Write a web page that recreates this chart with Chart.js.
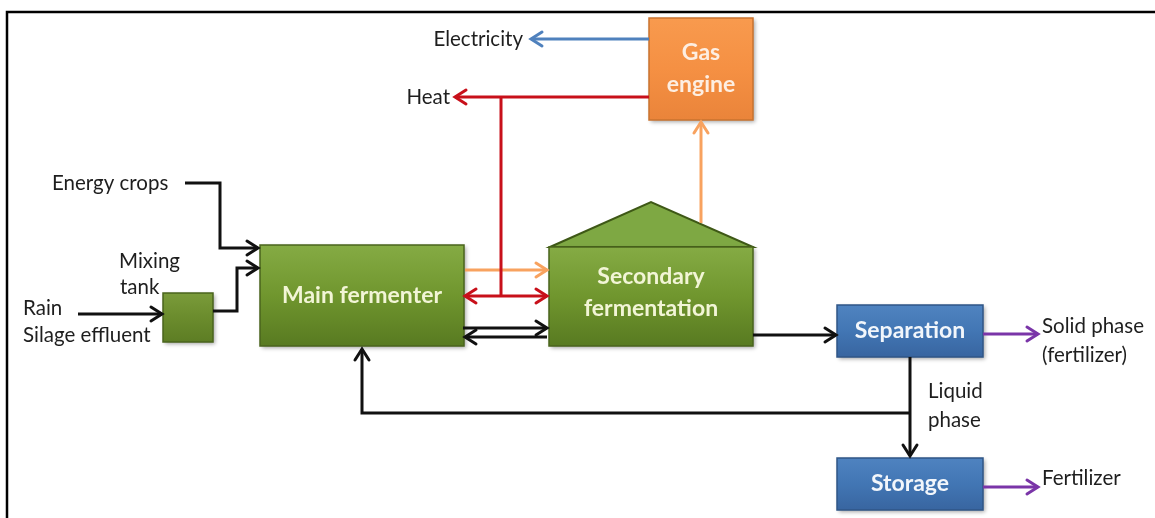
<!DOCTYPE html>
<html>
<head>
<meta charset="utf-8">
<script src="https://cdn.jsdelivr.net/npm/chart.js@4"></script>
<style>
html, body { margin: 0; padding: 0; background: #fff; }
canvas { display: block; }
</style>
</head>
<body>
<canvas id="grafico" width="1155" height="518"></canvas>
<script>
// process units (diagram units, y grows downward)
const boxNames  = ['Gas\nengine', 'Main fermenter', 'Secondary\nfermentation', 'Separation', 'Storage', ''];
const boxKinds  = ['engine', 'green', 'green', 'blue', 'blue', 'tank'];
const boxLeft   = [649, 260, 549, 837, 837, 163];
const boxTop    = [18, 245, 247, 305, 458, 293];
const boxRight  = [753, 464, 753, 983, 983, 213];
const boxBottom = [120, 346, 346, 357, 510, 342];
const boxRoof   = [null, null, 202, null, null, null];

// flows between units
const flowKinds = ['power', 'heat', 'heat', 'heat', 'gas', 'gas', 'mass', 'mass', 'mass', 'mass', 'mass', 'mass', 'mass', 'mass', 'product', 'product'];
const flowHeads = ['end', 'end', 'none', 'both', 'end', 'end', 'end', 'end', 'end', 'end', 'end', 'end', 'end', 'end', 'end', 'end'];
const flowX = [
  [649, 531], [649, 455], [501, 501], [465, 547], [465, 547], [701, 701],
  [463, 547], [547, 465], [753, 836],
  [185, 220, 220, 258], [78, 162], [213, 237, 237, 258],
  [910, 362, 362], [910, 910],
  [983, 1038], [983, 1038]
];
const flowY = [
  [39, 39], [97, 97], [97, 296], [296, 296], [270, 270], [223, 122],
  [328, 328], [337, 337], [335, 335],
  [183, 183, 248, 248], [314, 314], [311, 311, 268, 268],
  [413, 413, 349], [357, 456],
  [334, 334], [487, 487]
];

// free text
const labelText  = ['Electricity', 'Heat', 'Energy crops', 'Mixing', 'tank', 'Rain', 'Silage effluent', 'Solid phase', '(fertilizer)', 'Liquid', 'phase', 'Fertilizer'];
const labelX     = [523, 450, 52, 119, 120, 23, 23, 1042, 1042, 928, 928, 1042];
const labelY     = [39, 97, 183, 261, 287, 308, 335, 326, 355, 391, 420, 478];
const labelAlign = ['right', 'right', 'left', 'left', 'left', 'left', 'left', 'left', 'left', 'left', 'left', 'left'];

// frame around the figure
const frameX = [1155, 7, 7];
const frameY = [12, 12, 518];

const flowColors = { power: '#4f81bd', heat: '#c8101a', gas: '#f8a25f', mass: '#111111', product: '#7a35a8' };

function toPoints(xs, ys) {
  return xs.map((x, i) => ({ x: x, y: ys[i] }));
}

const datasets = [{
  data: toPoints(frameX, frameY),
  showLine: true, borderColor: '#000', borderWidth: 2.5, pointRadius: 0, fill: false
}];
flowX.forEach((xs, i) => {
  datasets.push({
    data: toPoints(xs, flowY[i]),
    showLine: true,
    borderColor: flowColors[flowKinds[i]],
    borderWidth: 3,
    pointRadius: 0,
    fill: false,
    borderJoinStyle: 'miter',
    head: flowHeads[i]
  });
});

function chevron(ctx, tip, from, color) {
  const ang = Math.atan2(tip.y - from.y, tip.x - from.x);
  const len = 11, half = 7;
  ctx.save();
  ctx.strokeStyle = color;
  ctx.lineWidth = 3;
  ctx.lineCap = 'round';
  ctx.lineJoin = 'miter';
  ctx.beginPath();
  ctx.moveTo(tip.x - len * Math.cos(ang) + half * Math.sin(ang), tip.y - len * Math.sin(ang) - half * Math.cos(ang));
  ctx.lineTo(tip.x, tip.y);
  ctx.lineTo(tip.x - len * Math.cos(ang) - half * Math.sin(ang), tip.y - len * Math.sin(ang) + half * Math.cos(ang));
  ctx.stroke();
  ctx.restore();
}

const boxStyles = {
  green:  { stops: ['#85ab44', '#70962e', '#587a21'], border: '#4a641c', text: '#f2f5d6' },
  tank:   { stops: ['#7a9b3a', '#6b8c2d', '#5d7d24'], border: '#4a641c', text: '#fff' },
  blue:   { stops: ['#4f83c0', '#4276b4', '#3865a0'], border: '#2f5687', text: '#f2f6fb' },
  engine: { stops: ['#f89a4e', '#f59043', '#ea843a'], border: '#c9732f', text: '#fdeee2' }
};

const diagramPlugin = {
  id: 'diagram',
  beforeDatasetsDraw(chart) {
    const ctx = chart.ctx, sx = chart.scales.x, sy = chart.scales.y;
    boxNames.forEach((name, i) => {
      const st = boxStyles[boxKinds[i]];
      const x0 = sx.getPixelForValue(boxLeft[i]), x1 = sx.getPixelForValue(boxRight[i]);
      const y0 = sy.getPixelForValue(boxTop[i]), y1 = sy.getPixelForValue(boxBottom[i]);
      ctx.save();
      if (boxRoof[i] !== null) {
        const yr = sy.getPixelForValue(boxRoof[i]);
        ctx.beginPath();
        ctx.moveTo(x0 + 1, y0);
        ctx.lineTo((x0 + x1) / 2, yr);
        ctx.lineTo(x1, y0);
        ctx.closePath();
        ctx.fillStyle = '#7ea843';
        ctx.fill();
        ctx.strokeStyle = '#3e5816';
        ctx.lineWidth = 2;
        ctx.stroke();
      }
      ctx.shadowColor = 'rgba(0,0,0,0.35)';
      ctx.shadowBlur = 4;
      ctx.shadowOffsetX = 2;
      ctx.shadowOffsetY = 2;
      const g = ctx.createLinearGradient(0, y0, 0, y1);
      g.addColorStop(0, st.stops[0]);
      g.addColorStop(0.5, st.stops[1]);
      g.addColorStop(1, st.stops[2]);
      ctx.fillStyle = g;
      ctx.fillRect(x0, y0, x1 - x0, y1 - y0);
      ctx.shadowColor = 'transparent';
      ctx.strokeStyle = st.border;
      ctx.lineWidth = 1.5;
      ctx.strokeRect(x0, y0, x1 - x0, y1 - y0);
      if (name) {
        const lines = name.split('\n');
        ctx.fillStyle = st.text;
        ctx.font = 'bold 23px Lato';
        ctx.textAlign = 'center';
        ctx.textBaseline = 'middle';
        const cx = (x0 + x1) / 2, cy = (y0 + y1) / 2 + (boxRoof[i] !== null ? -4 : 0);
        lines.forEach((ln, k) => {
          ctx.fillText(ln, cx, cy + (k - (lines.length - 1) / 2) * 32);
        });
      }
      ctx.restore();
    });
  },
  afterDatasetsDraw(chart) {
    const ctx = chart.ctx, sx = chart.scales.x, sy = chart.scales.y;
    chart.data.datasets.forEach((ds, i) => {
      if (!ds.head || ds.head === 'none') return;
      const pts = chart.getDatasetMeta(i).data;
      const n = pts.length;
      chevron(ctx, pts[n - 1], pts[n - 2], ds.borderColor);
      if (ds.head === 'both') chevron(ctx, pts[0], pts[1], ds.borderColor);
    });
    ctx.save();
    ctx.fillStyle = '#1e1e1e';
    ctx.font = '20.5px Lato';
    ctx.textBaseline = 'middle';
    labelText.forEach((t, i) => {
      ctx.textAlign = labelAlign[i];
      ctx.fillText(t, sx.getPixelForValue(labelX[i]), sy.getPixelForValue(labelY[i]));
    });
    ctx.restore();
  }
};

new Chart(document.getElementById('grafico'), {
  type: 'scatter',
  data: { datasets: datasets },
  options: {
    responsive: false,
    animation: false,
    events: [],
    layout: { padding: 0 },
    plugins: { legend: { display: false }, tooltip: { enabled: false } },
    scales: {
      x: { type: 'linear', min: 0, max: 1155, display: false },
      y: { type: 'linear', min: 0, max: 518, reverse: true, display: false }
    }
  },
  plugins: [diagramPlugin]
});
</script>
</body>
</html>
